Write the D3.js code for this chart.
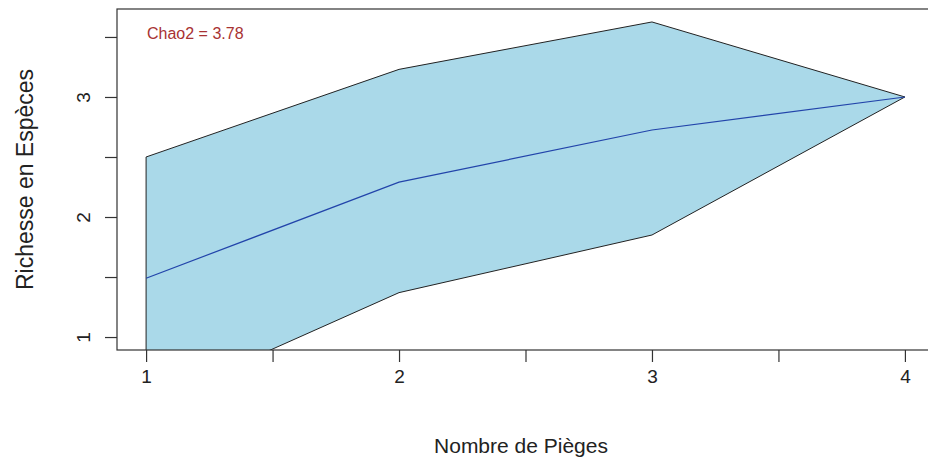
<!DOCTYPE html>
<html>
<head>
<meta charset="utf-8">
<script src="https://cdn.jsdelivr.net/npm/d3@7"></script>
<style>
  body { margin: 0; background: #fff; }
  svg { display: block; }
</style>
</head>
<body>
<script>
"use strict"

// nombre de pieges (x) et richesse estimee
const traps = [1, 2, 3, 4];
const upper = [2.5, 3.23, 3.625, 3.0];
const mean = [1.49, 2.29, 2.725, 3.0];
const lower = [0.43, 1.37, 1.85, 3.0];

const xTicks = [1, 1.5, 2, 2.5, 3, 3.5, 4];
const yTicks = [1, 1.5, 2, 2.5, 3, 3.5];
const chaoLabel = 'Chao2 = 3.78';

const w = 928, h = 460;
const padL = 117, padT = 9, padR = 934, padB = 350;

const svg = d3.select('body')
	.append('svg')
	.attr('width', w)
	.attr('height', h);

const xScale = d3.scaleLinear()
	.domain([0.885, 4.115])
	.range([padL, padR]);

const yScale = d3.scaleLinear()
	.domain([0.892, 3.733])
	.range([padB, padT]);

svg.append('clipPath')
	.attr('id', 'plot-clip')
	.append('rect')
	.attr('x', padL)
	.attr('y', padT)
	.attr('width', padR - padL)
	.attr('height', padB - padT);

const plot = svg.append('g').attr('clip-path', 'url(#plot-clip)');

const band = traps.map((t, i) => ({ x: t, lo: lower[i], hi: upper[i] }));

const area = d3.area()
	.x(d => xScale(d.x))
	.y0(d => yScale(d.lo))
	.y1(d => yScale(d.hi));

plot.append('path')
	.datum(band)
	.attr('d', area)
	.attr('fill', '#aad9e9')
	.attr('stroke', 'none');

// contour du polygone
const outline = band.map(d => [d.x, d.hi])
	.concat(band.slice().reverse().map(d => [d.x, d.lo]));

plot.append('path')
	.datum(outline)
	.attr('d', d3.line().x(d => xScale(d[0])).y(d => yScale(d[1])).curve(d3.curveLinearClosed))
	.attr('fill', 'none')
	.attr('stroke', '#222')
	.attr('stroke-width', 1);

plot.append('path')
	.datum(traps.map((t, i) => [t, mean[i]]))
	.attr('d', d3.line().x(d => xScale(d[0])).y(d => yScale(d[1])))
	.attr('fill', 'none')
	.attr('stroke', '#2244aa')
	.attr('stroke-width', 1.2);

// cadre
svg.append('rect')
	.attr('x', padL)
	.attr('y', padT)
	.attr('width', padR - padL)
	.attr('height', padB - padT)
	.attr('fill', 'none')
	.attr('stroke', '#333')
	.attr('stroke-width', 1.2);

const xAxis = d3.axisBottom(xScale)
	.tickValues(xTicks)
	.tickSize(12)
	.tickPadding(8)
	.tickFormat(d => Number.isInteger(d) ? d : '');

const gx = svg.append('g')
	.attr('transform', 'translate(0,' + padB + ')')
	.call(xAxis);
gx.select('.domain').remove();
gx.selectAll('line').attr('stroke', '#333').attr('stroke-width', 1.2);
gx.selectAll('text')
	.attr('fill', '#222')
	.style('font-family', 'Liberation Sans, Arial, sans-serif')
	.style('font-size', '19px');

const yAxis = d3.axisLeft(yScale)
	.tickValues(yTicks)
	.tickSize(12)
	.tickFormat(d => Number.isInteger(d) ? d : '');

const gy = svg.append('g')
	.attr('transform', 'translate(' + padL + ',0)')
	.call(yAxis);
gy.select('.domain').remove();
gy.selectAll('line').attr('stroke', '#333').attr('stroke-width', 1.2);
gy.selectAll('text')
	.attr('x', 0)
	.attr('dy', 0)
	.attr('text-anchor', 'middle')
	.attr('transform', 'translate(-27,0) rotate(-90)')
	.attr('fill', '#222')
	.style('font-family', 'Liberation Sans, Arial, sans-serif')
	.style('font-size', '19px');

svg.append('text')
	.attr('x', 521)
	.attr('y', 453)
	.attr('text-anchor', 'middle')
	.attr('fill', '#222')
	.style('font-family', 'Liberation Sans, Arial, sans-serif')
	.style('font-size', '21px')
	.text('Nombre de Pièges');

svg.append('text')
	.attr('transform', 'translate(33,' + (padT + padB) / 2 + ') rotate(-90)')
	.attr('text-anchor', 'middle')
	.attr('fill', '#222')
	.style('font-family', 'Liberation Sans, Arial, sans-serif')
	.style('font-size', '23px')
	.text('Richesse en Espèces');

svg.append('text')
	.attr('x', 147)
	.attr('y', 39)
	.attr('fill', '#a83232')
	.style('font-family', 'Liberation Sans Narrow, Arial Narrow, sans-serif')
	.style('font-size', '16px')
	.text(chaoLabel);
</script>
</body>
</html>
